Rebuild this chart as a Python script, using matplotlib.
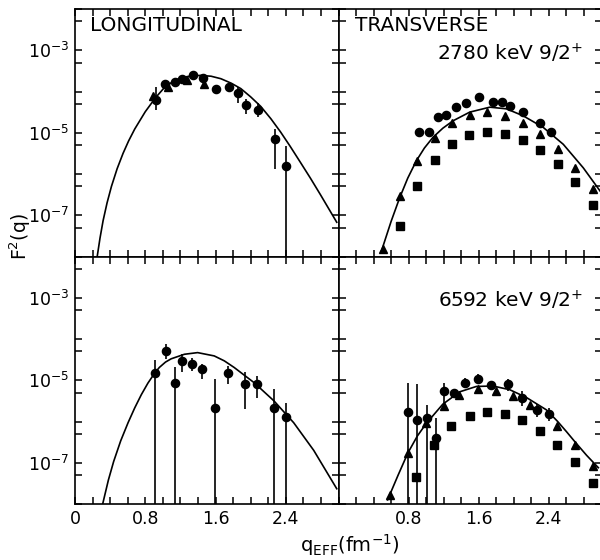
import numpy as np
import matplotlib
matplotlib.use("Agg")
import matplotlib.pyplot as plt
from matplotlib.ticker import FixedLocator, NullFormatter

plt.rcParams['font.family'] = ['DejaVu Sans']
plt.rcParams['mathtext.default'] = 'regular'

# ---------------- data (log10 F^2 values) ----------------
# Longitudinal, 2780 keV
L1_q = [0.917, 1.027, 1.133, 1.215, 1.344, 1.453, 1.604, 1.748, 1.857, 1.944, 2.084, 2.276, 2.404]
L1_log = [-4.20, -3.83, -3.76, -3.69, -3.61, -3.67, -3.93, -3.88, -4.03, -4.32, -4.45, -5.15, -5.80]
L1_lo = [-4.46, -3.83, -3.76, -3.69, -3.61, -3.67, -3.93, -3.88, -4.29, -4.54, -4.62, -5.89, -9.0]
L1_hi = [-3.88, -3.83, -3.76, -3.69, -3.61, -3.67, -3.93, -3.88, -3.90, -4.18, -4.27, -4.91, -5.32]
L1_tri_q = [0.89, 1.06, 1.27, 1.47]
L1_tri_log = [-4.12, -3.89, -3.72, -3.81]
L1_curve_q = [0.25, 0.285, 0.32, 0.365, 0.415, 0.48, 0.547, 0.61, 0.68, 0.80, 0.917, 1.02, 1.12, 1.208,
              1.32, 1.435, 1.55, 1.661, 1.78, 1.888, 2.0, 2.114, 2.23, 2.34, 2.45, 2.567, 2.68, 2.794, 2.98]
L1_curve_log = [-8.04, -7.55, -7.13, -6.70, -6.30, -5.87, -5.50, -5.20, -4.91, -4.49, -4.15, -3.90, -3.75,
                -3.67, -3.62, -3.61, -3.63, -3.69, -3.80, -3.93, -4.13, -4.36, -4.66, -4.98, -5.33,
                -5.72, -6.1, -6.5, -7.17]

# Transverse, 2780 keV
T1_circ_q = [0.918, 1.032, 1.135, 1.223, 1.337, 1.459, 1.604, 1.764, 1.870, 1.954, 2.099, 2.297, 2.423]
T1_circ_log = [-4.99, -4.99, -4.63, -4.56, -4.38, -4.29, -4.14, -4.26, -4.26, -4.34, -4.49, -4.76, -4.97]
T1_tri_q = [0.507, 0.705, 0.899, 1.097, 1.299, 1.497, 1.695, 1.897, 2.099, 2.297, 2.499, 2.697, 2.899]
T1_tri_log = [-7.81, -6.54, -5.68, -5.13, -4.76, -4.57, -4.50, -4.59, -4.76, -5.02, -5.40, -5.85, -6.37]
T1_sq_q = [0.697, 0.899, 1.097, 1.295, 1.490, 1.699, 1.897, 2.099, 2.297, 2.499, 2.697, 2.899]
T1_sq_log = [-7.27, -6.29, -5.67, -5.28, -5.06, -4.99, -5.02, -5.18, -5.42, -5.76, -6.20, -6.74]
T1_curve_q = [0.488, 0.60, 0.697, 0.79, 0.888, 0.98, 1.078, 1.19, 1.307, 1.497, 1.726, 1.916,
              2.107, 2.335, 2.564, 2.792, 2.983]
T1_curve_log = [-7.88, -7.15, -6.58, -6.1, -5.68, -5.37, -5.11, -4.89, -4.71, -4.50, -4.38, -4.42,
                -4.59, -4.87, -5.28, -5.85, -6.41]

# Longitudinal, 6592 keV
L2_q = [0.914, 1.031, 1.133, 1.223, 1.333, 1.442, 1.593, 1.740, 1.937, 2.076, 2.270, 2.397]
L2_log = [-4.83, -4.29, -5.06, -4.54, -4.60, -4.73, -5.68, -4.83, -5.10, -5.10, -5.68, -5.90]
L2_lo = [-9.0, -4.48, -9.0, -4.81, -4.78, -4.96, -9.0, -5.10, -5.70, -5.44, -9.0, -9.0]
L2_hi = [-4.51, -4.13, -4.69, -4.37, -4.46, -4.60, -4.96, -4.65, -4.81, -4.90, -5.22, -5.54]
L2_curve_q = [0.315, 0.38, 0.44, 0.52, 0.604, 0.68, 0.755, 0.83, 0.906, 0.96, 1.03, 1.095, 1.246,
              1.396, 1.585, 1.70, 1.812, 2.04, 2.265, 2.49, 2.718, 2.98]
L2_curve_log = [-8.0, -7.42, -6.97, -6.47, -6.03, -5.67, -5.35, -5.07, -4.83, -4.69, -4.56, -4.48, -4.37,
                -4.33, -4.41, -4.53, -4.69, -5.06, -5.50, -6.03, -6.70, -7.63]

# Transverse, 6592 keV
T2_circ_q = [0.792, 0.895, 1.010, 1.116, 1.204, 1.318, 1.448, 1.596, 1.745, 1.939, 2.088, 2.266, 2.404]
T2_circ_log = [-5.78, -5.96, -5.92, -6.41, -5.25, -5.30, -5.06, -4.96, -5.12, -5.10, -5.44, -5.72, -5.82]
T2_circ_lo = [-9.0, -9.0, -9.0, -9.0, -5.55, -5.40, -5.18, -5.10, -5.12, -5.26, -5.62, -5.90, -5.98]
T2_circ_hi = [-5.06, -5.10, -5.60, -5.92, -5.06, -5.20, -4.94, -4.86, -5.12, -4.98, -5.26, -5.58, -5.68]
T2_tri_q = [0.583, 0.792, 0.994, 1.200, 1.375, 1.592, 1.791, 1.992, 2.190, 2.488, 2.697, 2.899]
T2_tri_log = [-7.79, -6.76, -6.04, -5.62, -5.35, -5.22, -5.25, -5.38, -5.60, -6.10, -6.57, -7.07]
T2_sq_q = [0.888, 1.086, 1.280, 1.497, 1.699, 1.897, 2.095, 2.297, 2.488, 2.697, 2.899]
T2_sq_log = [-7.35, -6.57, -6.10, -5.86, -5.78, -5.81, -5.96, -6.22, -6.57, -6.98, -7.48]
T2_curve_q = [0.56, 0.68, 0.792, 0.9, 1.0, 1.19, 1.383, 1.573, 1.764, 1.954, 2.145, 2.373, 2.50,
              2.602, 2.70, 2.83, 2.964]
T2_curve_log = [-7.90, -7.3, -6.76, -6.35, -6.05, -5.58, -5.28, -5.15, -5.14, -5.23, -5.42, -5.72, -6.0,
                -6.25, -6.50, -6.82, -7.12]

x_ticklabels = ['0', '0.8', '1.6', '2.4']
y_ticklabels = ['$10^{-3}$', '$10^{-5}$', '$10^{-7}$']

# ---------------- figure ----------------
W, H = 600, 560
fig = plt.figure(figsize=(6, 5.6), dpi=100)

def px_axes(x0, y0, x1, y1):
    return fig.add_axes([x0 / W, 1 - y1 / H, (x1 - x0) / W, (y1 - y0) / H])

ax_tl = px_axes(75, 9, 338.5, 256.5)
ax_tr = px_axes(338.5, 9, 601.5, 256.5)
ax_bl = px_axes(75, 256.5, 338.5, 504)
ax_br = px_axes(338.5, 256.5, 601.5, 504)

F = lambda v: 10.0 ** np.asarray(v, dtype=float)

major_y = F(np.arange(-8, -1))
minor_y = 5 * F(np.arange(-8, -2))
xt = np.round(np.arange(0, 3.01, 0.2), 2)

for ax in (ax_tl, ax_tr, ax_bl, ax_br):
    ax.set_yscale('log')
    ax.set_ylim(1e-8, 1e-2)
    ax.set_xlim(0, 3.0)
    ax.yaxis.set_major_locator(FixedLocator(list(major_y)))
    ax.yaxis.set_minor_locator(FixedLocator(list(minor_y)))
    ax.yaxis.set_minor_formatter(NullFormatter())
    ax.xaxis.set_major_locator(FixedLocator(list(xt)))
    ax.tick_params(which='both', direction='in', length=5, width=1.1,
                   top=True, right=True, labelsize=12.5, pad=4)
    for s in ax.spines.values():
        s.set_linewidth(1.2)
    ax.set_xticklabels([])
    ax.set_yticklabels([])

def set_xlabels(ax, show_zero):
    labs = []
    for v in xt:
        s = ('%g' % v)
        if s in x_ticklabels and (s != '0' or show_zero):
            labs.append(s)
        else:
            labs.append('')
    ax.set_xticklabels(labs)

def set_ylabels(ax):
    labs = []
    for e in range(-8, -1):
        s = '$10^{%d}$' % e
        labs.append(s if s in y_ticklabels else '')
    ax.set_yticklabels(labs)

set_xlabels(ax_bl, True)
set_xlabels(ax_br, False)
set_ylabels(ax_tl)
set_ylabels(ax_bl)

ms_c, ms_t, ms_s = 5.9, 6.3, 5.4
ebkw = dict(fmt='o', color='black', ms=ms_c, elinewidth=1.2, capsize=0)

def err(ax, q, lg, lo, hi):
    y = F(lg)
    ax.errorbar(q, y, yerr=[y - F(lo), F(hi) - y], **ebkw)

# top-left
ax_tl.plot(L1_curve_q, F(L1_curve_log), color='black', lw=1.2)
ax_tl.plot(L1_tri_q, F(L1_tri_log), '^', color='black', ms=ms_t)
err(ax_tl, L1_q, L1_log, L1_lo, L1_hi)

# top-right
ax_tr.plot(T1_curve_q, F(T1_curve_log), color='black', lw=1.2)
ax_tr.plot(T1_circ_q, F(T1_circ_log), 'o', color='black', ms=ms_c)
ax_tr.plot(T1_tri_q, F(T1_tri_log), '^', color='black', ms=ms_t)
ax_tr.plot(T1_sq_q, F(T1_sq_log), 's', color='black', ms=ms_s)

# bottom-left
ax_bl.plot(L2_curve_q, F(L2_curve_log), color='black', lw=1.2)
err(ax_bl, L2_q, L2_log, L2_lo, L2_hi)

# bottom-right
ax_br.plot(T2_curve_q, F(T2_curve_log), color='black', lw=1.2)
ax_br.plot(T2_tri_q, F(T2_tri_log), '^', color='black', ms=ms_t)
ax_br.plot(T2_sq_q, F(T2_sq_log), 's', color='black', ms=ms_s)
err(ax_br, T2_circ_q, T2_circ_log, T2_circ_lo, T2_circ_hi)

for ax in (ax_tl, ax_tr, ax_bl, ax_br):
    ax.set_xlim(0, 3.0)
    ax.set_ylim(1e-8, 1e-2)

# texts
fig.text(90 / W, 1 - 16 / H, 'LONGITUDINAL', fontsize=14.5, va='top', ha='left')
fig.text(355 / W, 1 - 16 / H, 'TRANSVERSE', fontsize=14.5, va='top', ha='left')
fig.text(583 / W, 1 - 42 / H, '2780 keV 9/2$^{+}$', fontsize=14.5, va='top', ha='right')
fig.text(583 / W, 1 - 289 / H, '6592 keV 9/2$^{+}$', fontsize=14.5, va='top', ha='right')
fig.text(20 / W, 1 - 237 / H, 'F$^{2}$(q)', fontsize=13.5, rotation=90, va='center', ha='center')
fig.text(350 / W, 1 - 545 / H, 'q$_{EFF}$(fm$^{-1}$)', fontsize=14, va='center', ha='center')

fig.savefig('out.png', dpi=100)
